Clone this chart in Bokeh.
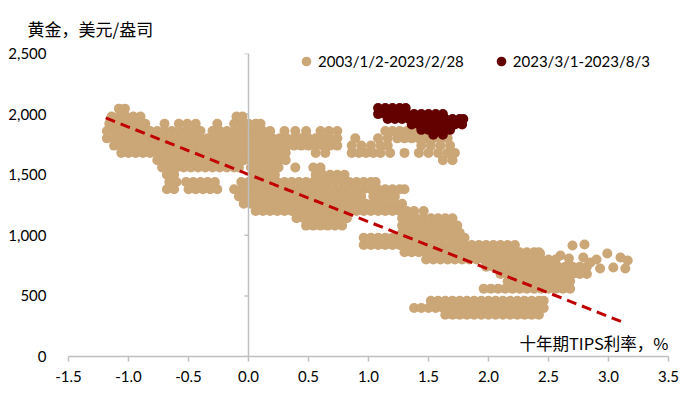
from bokeh.plotting import figure
from bokeh.models import Range1d, FixedTicker, NumeralTickFormatter, Legend, LegendItem, Label, Span
from bokeh.embed import file_html
from bokeh.resources import INLINE

# ---------------- data ----------------
title_text = "黄金，美元/盎司"
x_label_text = "十年期TIPS利率，%"
series_names = ["2003/1/2-2023/2/28", "2023/3/1-2023/8/3"]

x_ticks = [-1.5, -1.0, -0.5, 0.0, 0.5, 1.0, 1.5, 2.0, 2.5, 3.0, 3.5]
y_ticks = [0, 500, 1000, 1500, 2000, 2500]

# gold price (USD/oz) rows with the 10y TIPS yields observed at that level, 2003/1/2-2023/2/28
tan_upper_rows = [
    (2045, [-1.08, -1.03]),
    (1980, [-1.14, -1.08, -1.02, -0.96, -0.90, -0.10, -0.05]),
    (1920, [-1.16, -1.10, -1.04, -0.98, -0.92, -0.86, -0.70, -0.58, -0.51, -0.44, -0.26, -0.12, -0.06, 0.00, 0.06, 0.10]),
    (1860, [-1.18, -1.12, -1.06, -1.00, -0.94, -0.88, -0.82, -0.76, -0.70, -0.64, -0.58, -0.52, -0.46, -0.40,
            -0.30, -0.24, -0.18, -0.12, -0.06, 0.00, 0.06, 0.12, 0.18, 0.30, 0.39, 0.48, 0.60, 0.67, 0.74,
            1.14, 1.20, 1.26, 1.32, 1.38, 1.44]),
    (1800, [-1.18, -1.12, -1.06, -1.00, -0.94, -0.88, -0.82, -0.76, -0.70, -0.64, -0.58, -0.52, -0.46, -0.40,
            -0.34, -0.28, -0.22, -0.16, -0.10, -0.04, 0.02, 0.08, 0.14, 0.20, 0.26, 0.32, 0.38, 0.44, 0.50,
            0.56, 0.62, 0.68, 0.74, 0.89, 1.08, 1.16, 1.24, 1.30, 1.36, 1.42, 1.48, 1.54, 1.60, 1.66]),
    (1740, [-1.12, -1.06, -1.00, -0.94, -0.88, -0.82, -0.76, -0.70, -0.64, -0.58, -0.52, -0.46, -0.40, -0.34,
            -0.28, -0.22, -0.16, -0.10, -0.04, 0.02, 0.08, 0.14, 0.20, 0.26, 0.32, 0.38, 0.44, 0.50, 0.56,
            0.62, 0.68, 0.74, 0.86, 0.94, 1.02, 1.10, 1.16, 1.44, 1.52, 1.60, 1.68]),
    (1680, [-1.06, -1.00, -0.94, -0.88, -0.82, -0.76, -0.70, -0.64, -0.58, -0.52, -0.46, -0.40, -0.34, -0.28,
            -0.22, -0.16, -0.10, -0.04, 0.02, 0.08, 0.14, 0.20, 0.26, 0.31, 0.56, 0.64, 0.86, 0.92, 0.98,
            1.04, 1.10, 1.18, 1.30, 1.42, 1.50, 1.58, 1.66, 1.72]),
    (1620, [-0.76, -0.70, -0.64, -0.58, -0.52, -0.46, -0.40, -0.34, -0.28, -0.22, -0.16, -0.10, -0.04, 0.02,
            0.08, 0.14, 0.20, 0.26, 0.31, 1.62, 1.70]),
    (1560, [-0.72, -0.66, -0.60, -0.54, -0.48, -0.42, -0.36, -0.30, -0.24, -0.18, -0.12, -0.08, 0.02, 0.08,
            0.14, 0.20, 0.25, 0.39, 0.54, 0.60]),
    (1500, [-0.68, -0.62, 0.04, 0.10, 0.16, 0.22, 0.56, 0.62, 0.68, 0.74, 0.80]),
    (1440, [-0.66, -0.60, -0.52, -0.46, -0.40, -0.34, -0.28, -0.06, 0.00, 0.06, 0.12, 0.18, 0.24, 0.30, 0.36,
            0.42, 0.48, 0.54, 0.60, 0.66, 0.72, 0.78, 0.84, 0.90, 0.96, 1.02, 1.06]),
    (1380, [-0.68, -0.62, -0.50, -0.44, -0.38, -0.32, -0.26, -0.12, -0.06, 0.00, 0.06, 0.12, 0.18, 0.24, 0.30,
            0.36, 0.42, 0.48, 0.54, 0.60, 0.66, 0.72, 0.78, 0.84, 0.90, 0.96, 1.02, 1.08, 1.14, 1.20, 1.26, 1.30]),
    (1320, [-0.08, -0.02, 0.04, 0.10, 0.16, 0.22, 0.28, 0.34, 0.40, 0.46, 0.52, 0.58, 0.64, 0.70, 0.76, 0.82,
            0.88, 0.94, 1.04, 1.10, 1.16, 1.22]),
]

tan_lower_rows = [
    (1260, [-0.04, 0.02, 0.08, 0.14, 0.20, 0.26, 0.32, 0.38, 0.44, 0.50, 0.56, 0.62, 0.68, 0.74, 0.80, 0.86,
            0.92, 0.98, 1.04, 1.10, 1.16, 1.22, 1.28]),
    (1200, [0.06, 0.12, 0.18, 0.24, 0.30, 0.36, 0.42, 0.48, 0.54, 0.60, 0.66, 0.72, 0.78, 0.84, 0.90, 0.96,
            1.02, 1.08, 1.14, 1.20, 1.26, 1.32, 1.38, 1.46]),
    (1140, [0.40, 0.46, 0.52, 0.58, 0.64, 0.70, 0.76, 0.82, 1.28, 1.34, 1.40, 1.46, 1.52, 1.58, 1.64, 1.70]),
    (1080, [0.48, 0.54, 0.60, 0.66, 0.72, 0.78, 1.28, 1.34, 1.40, 1.46, 1.52, 1.58, 1.64, 1.70, 1.74]),
    (1020, [1.28, 1.34, 1.40, 1.46, 1.52, 1.58, 1.64, 1.70, 1.76]),
    (980, [0.96, 1.02, 1.08, 1.14, 1.20, 1.26, 1.32, 1.38, 1.44, 1.50, 1.56, 1.62, 1.68, 1.74, 1.80]),
    (920, [0.96, 1.02, 1.08, 1.14, 1.20, 1.26, 1.32, 1.38, 1.44, 1.50, 1.56, 1.62, 1.68, 1.74, 1.80, 1.86,
           1.92, 1.98, 2.04, 2.10, 2.16, 2.22]),
    (860, [1.30, 1.36, 1.42, 1.48, 1.54, 1.60, 1.66, 1.72, 1.78, 1.84, 1.90, 1.96, 2.02, 2.08, 2.14, 2.20,
           2.26, 2.32, 2.38, 2.42]),
    (800, [1.48, 1.54, 1.60, 1.66, 1.72, 1.78, 1.84, 1.90, 1.96, 2.02, 2.08, 2.14, 2.20, 2.26, 2.32, 2.38,
           2.44, 2.50, 2.56]),
    (740, [1.98, 2.04, 2.10, 2.16, 2.22, 2.28, 2.34, 2.40, 2.46, 2.52, 2.58, 2.64, 2.70, 2.76, 2.82]),
    (680, [2.10, 2.16, 2.22, 2.28, 2.34, 2.40, 2.46, 2.52, 2.58, 2.64, 2.70, 2.76, 2.82]),
    (620, [2.16, 2.22, 2.28, 2.34, 2.40, 2.46, 2.52, 2.58, 2.64, 2.68]),
    (560, [1.96, 2.02, 2.08, 2.14, 2.20, 2.26, 2.32, 2.38, 2.44, 2.50, 2.56, 2.62, 2.68]),
    (460, [1.52, 1.58, 1.64, 1.70, 1.76, 1.82, 1.88, 1.94, 2.00, 2.06, 2.12, 2.18, 2.24, 2.30, 2.36, 2.42, 2.46]),
    (400, [1.38, 1.44, 1.50, 1.56, 1.62, 1.68, 1.74, 1.80, 1.86, 1.92, 1.98, 2.04, 2.10, 2.16, 2.22, 2.28,
           2.34, 2.40, 2.46]),
    (345, [1.64, 1.70, 1.76, 1.82, 1.88, 1.94, 2.00, 2.06, 2.12, 2.18, 2.24, 2.30, 2.36, 2.42]),
]

tan_sparse_x = [2.43, 2.60, 2.70, 2.80, 2.67, 2.79, 2.85, 2.99, 3.10, 3.16, 3.14, 3.04, 2.93, 2.77, 2.90]
tan_sparse_y = [850, 833, 916, 924, 808, 817, 775, 850, 817, 792, 726, 734, 726, 710, 800]

# 2023/3/1-2023/8/3
red_rows = [
    (2050, [1.08, 1.14, 1.20, 1.26, 1.31]),
    (2000, [1.08, 1.14, 1.20, 1.26, 1.32, 1.38, 1.44, 1.50, 1.56, 1.62]),
    (1960, [1.16, 1.22, 1.28, 1.34, 1.40, 1.46, 1.52, 1.58, 1.64, 1.70, 1.76, 1.79]),
    (1915, [1.36, 1.42, 1.48, 1.54, 1.60, 1.66, 1.72, 1.78]),
    (1870, [1.44, 1.50, 1.56, 1.62, 1.68]),
    (1830, [1.54, 1.62]),
]

# linear trend line end points
trend_x = [-1.19, 3.12]
trend_y = [1968, 283]

# ---------------- styles ----------------
TAN = "#CBA677"
DARK = "#630000"
RED = "#C00000"
AXIS = "#BFBFBF"
LATIN = "Lato"
CJK = "Noto Sans CJK SC"
X_MIN, X_MAX, Y_MIN, Y_MAX = -1.5, 3.5, 0, 2500
FRAME_W = 600
TICK_LEN = 4 * (X_MAX - X_MIN) / FRAME_W   # 4 px expressed in x units


def flatten(rows):
    xs, ys = [], []
    for yv, row in rows:
        for xv in row:
            xs.append(xv)
            ys.append(yv)
    return xs, ys


ux, uy = flatten(tan_upper_rows)
lx, ly = flatten(tan_lower_rows)
tan_x = ux + lx + tan_sparse_x
tan_y = uy + ly + tan_sparse_y
red_x, red_y = flatten(red_rows)

p = figure(width=700, height=401, x_range=Range1d(X_MIN, X_MAX), y_range=Range1d(Y_MIN, Y_MAX),
           output_backend="svg", toolbar_location=None,
           min_border_left=68, min_border_right=32, min_border_top=53, min_border_bottom=45,
           title=title_text)
p.outline_line_color = None
p.xgrid.visible = False
p.ygrid.visible = False

# chart title (unit of the y axis), top-left above the plot area
p.title.text_font = CJK
p.title.text_font_size = "17px"
p.title.text_font_style = "normal"
p.title.text_color = "#000000"
p.title.align = "left"
p.title.vertical_align = "top"
p.title.standoff = 21
p.title.offset = -41

# vertical axis line crossing at x = 0 with its small ticks
p.add_layout(Span(location=0, dimension="height", line_color=AXIS, line_width=1.5))
p.segment(x0=[0] * len(y_ticks), y0=y_ticks, x1=[-TICK_LEN] * len(y_ticks), y1=y_ticks,
          line_color=AXIS, line_width=1.5)

r1 = p.scatter(tan_x, tan_y, size=10, fill_color=TAN, line_color=None)
p.line(trend_x, trend_y, line_color=RED, line_width=3, line_dash="10 6")
r2 = p.scatter(red_x, red_y, size=10, fill_color=DARK, line_color=None)

xa = p.xaxis[0]
xa.ticker = FixedTicker(ticks=x_ticks)
xa.formatter = NumeralTickFormatter(format="0.0")
xa.axis_line_color = AXIS
xa.axis_line_width = 1.5
xa.major_tick_line_color = AXIS
xa.major_tick_line_width = 1.5
xa.major_tick_in = 0
xa.major_tick_out = 5
xa.minor_tick_line_color = None
xa.major_label_text_font = LATIN
xa.major_label_text_font_size = "15px"
xa.major_label_text_color = "#000000"
xa.major_label_standoff = 9

ya = p.yaxis[0]
ya.ticker = FixedTicker(ticks=y_ticks)
ya.formatter = NumeralTickFormatter(format="0,0")
ya.axis_line_color = None
ya.major_tick_line_color = None
ya.major_tick_in = 0
ya.major_tick_out = 0
ya.minor_tick_line_color = None
ya.major_label_text_font = LATIN
ya.major_label_text_font_size = "15px"
ya.major_label_text_color = "#000000"
ya.major_label_standoff = 22

# x-axis title inside the plot area, bottom right
p.add_layout(Label(x=X_MAX, y=115, text=x_label_text, text_align="right", text_baseline="middle",
                   text_font=CJK, text_font_size="16.5px", text_color="#000000"))

legend = Legend(items=[LegendItem(label=series_names[0], renderers=[r1]),
                       LegendItem(label=series_names[1], renderers=[r2])],
                location=(226, 283), orientation="horizontal", padding=0, margin=0, spacing=25,
                glyph_width=24, glyph_height=24, label_standoff=-2,
                label_text_font=LATIN, label_text_font_size="15px", label_text_color="#000000",
                border_line_color=None, background_fill_alpha=0)
p.add_layout(legend)

open("out.html", "w").write(file_html(p, INLINE))
